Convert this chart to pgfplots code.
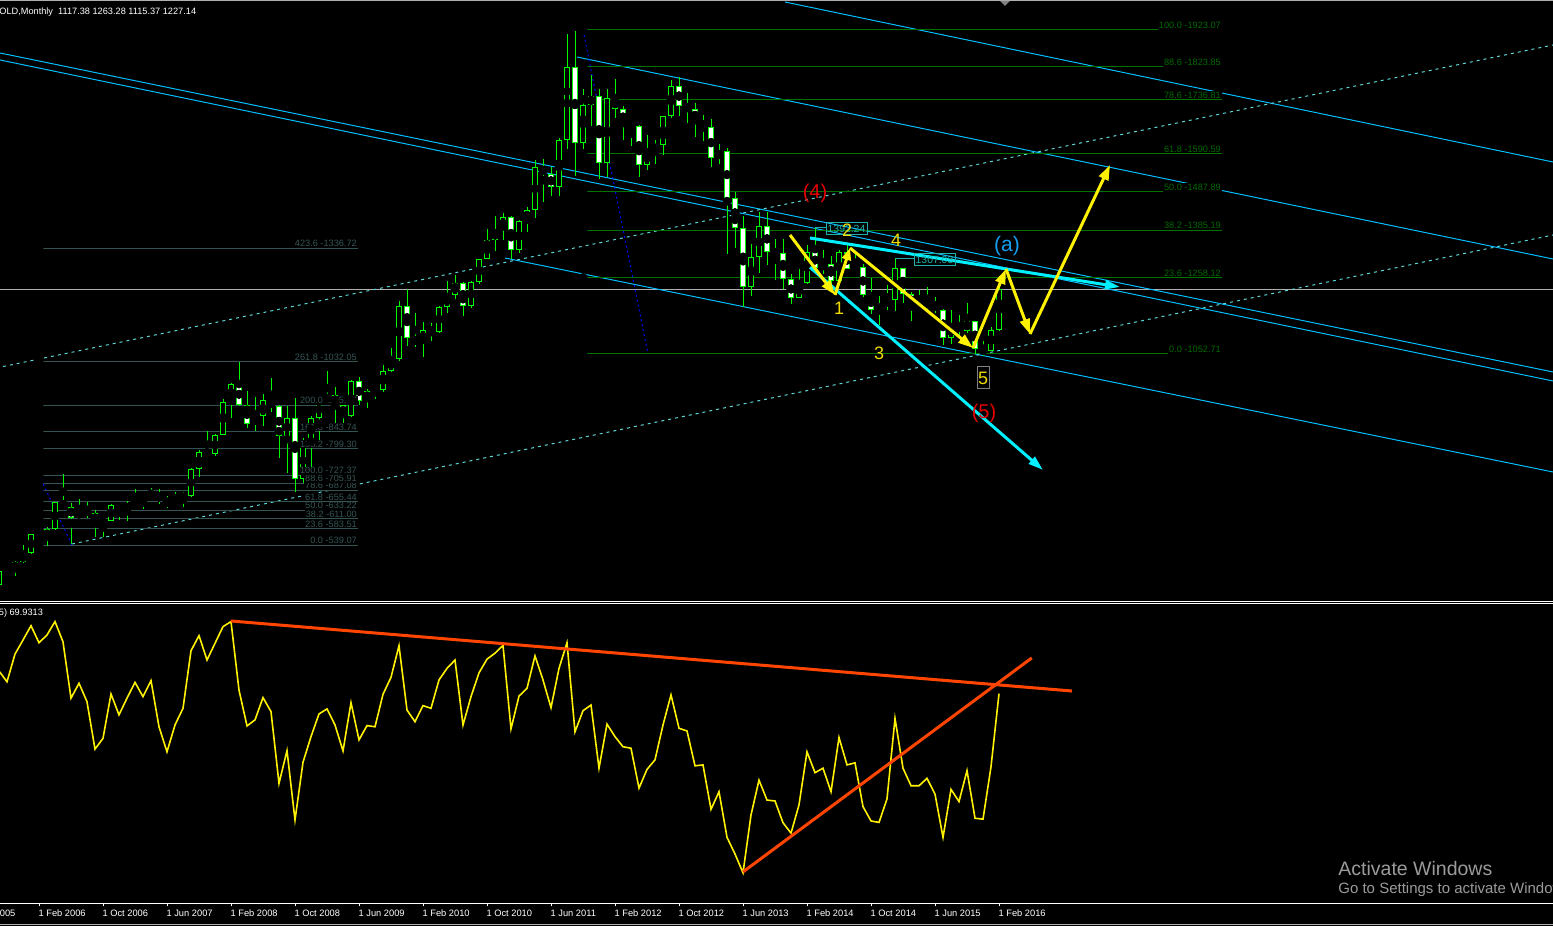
\documentclass[border=0pt]{standalone}
\usepackage{pgfplots}
\pgfplotsset{compat=1.18}
\usepackage{pgfplotstable}
\usepackage{fontspec}
\setmainfont{Liberation Sans}
\usetikzlibrary{arrows.meta}

\definecolor{candle}{RGB}{0,250,0}
\definecolor{chan}{RGB}{0,191,255}
\definecolor{dotc}{RGB}{95,215,215}
\definecolor{fibL}{RGB}{52,84,84}
\definecolor{fibR}{RGB}{0,115,0}
\definecolor{fibRt}{RGB}{0,105,0}
\definecolor{arrcy}{RGB}{0,240,255}
\definecolor{ored}{RGB}{255,69,0}
\definecolor{lsg}{RGB}{32,178,170}
\definecolor{wm}{RGB}{155,155,155}
\definecolor{wred}{RGB}{230,0,0}
\definecolor{acol}{RGB}{20,160,240}
\definecolor{ylab}{RGB}{240,220,0}
\definecolor{pline}{RGB}{175,175,175}

% monthly OHLC, m = months since Feb 2006
\pgfplotstableread{
m o h l c
-5 433 474 431 469
-4 469 478 457 470
-3 470 497 456 495
-2 495 539 490 517
-1 517 570 515 569
0 569 573 538 556
1 556 587 537 582
2 582 655 580 654
3 654 730 636 643
4 643 652 543 613
5 613 663 610 632
6 632 656 612 626
7 626 634 561 599
8 599 613 560 604
9 604 649 603 646
10 646 647 606 632
11 632 657 603 650
12 650 690 648 665
13 665 672 636 662
14 662 693 661 679
15 679 690 651 657
16 657 672 640 650
17 650 683 648 665
18 665 682 642 672
19 672 746 669 743
20 743 794 723 789
21 789 845 773 783
22 783 838 780 834
23 834 932 834 924
24 924 976 880 972
25 972 1032 912 917
26 917 952 854 864
27 864 936 846 885
28 885 944 860 928
29 928 988 898 912
30 912 917 774 832
31 832 914 734 880
32 880 934 681 718
33 718 828 705 815
34 815 887 750 882
35 882 931 800 926
36 926 1006 916 942
37 942 963 866 917
38 917 918 865 885
39 885 982 883 979
40 979 990 915 926
41 926 960 908 954
42 954 968 931 955
43 955 1024 950 1008
44 1008 1070 1003 1040
45 1040 1195 1034 1182
46 1182 1227 1075 1097
47 1097 1162 1072 1082
48 1082 1138 1045 1118
49 1118 1136 1087 1113
50 1113 1181 1110 1179
51 1179 1249 1163 1212
52 1212 1265 1200 1244
53 1244 1245 1155 1181
54 1181 1250 1177 1247
55 1247 1309 1242 1307
56 1307 1388 1307 1358
57 1358 1424 1330 1386
58 1386 1431 1360 1421
59 1421 1424 1309 1332
60 1332 1412 1324 1409
61 1409 1447 1381 1439
62 1439 1575 1417 1556
63 1556 1577 1462 1536
64 1536 1556 1478 1500
65 1500 1632 1478 1628
66 1628 1913 1603 1825
67 1825 1921 1532 1620
68 1620 1764 1603 1722
69 1722 1803 1666 1746
70 1746 1764 1523 1565
71 1565 1764 1527 1740
72 1740 1792 1688 1710
73 1710 1719 1627 1669
74 1669 1677 1612 1664
75 1664 1669 1527 1561
76 1561 1641 1548 1598
77 1598 1627 1564 1614
78 1614 1693 1588 1692
79 1692 1790 1687 1773
80 1773 1796 1693 1719
81 1719 1754 1672 1712
82 1712 1726 1635 1676
83 1676 1696 1626 1663
84 1663 1684 1555 1579
85 1579 1617 1562 1597
86 1597 1605 1321 1472
87 1472 1488 1338 1392
88 1392 1424 1180 1234
89 1234 1348 1208 1313
90 1313 1434 1271 1396
91 1396 1434 1292 1327
92 1327 1362 1251 1323
93 1323 1361 1227 1253
94 1253 1267 1187 1202
95 1202 1280 1202 1244
96 1244 1346 1241 1326
97 1326 1392 1277 1284
98 1284 1331 1268 1295
99 1295 1315 1240 1250
100 1250 1332 1240 1327
101 1327 1345 1280 1282
102 1282 1323 1273 1287
103 1287 1294 1206 1210
104 1210 1256 1161 1172
105 1172 1208 1131 1183
106 1183 1239 1170 1199
107 1199 1308 1168 1283
108 1283 1285 1191 1213
109 1213 1219 1142 1183
110 1183 1224 1175 1184
111 1184 1232 1170 1190
112 1190 1205 1162 1172
113 1172 1174 1077 1095
114 1095 1170 1080 1133
115 1133 1157 1098 1115
116 1115 1191 1108 1142
117 1142 1142 1052 1065
118 1065 1088 1046 1061
119 1061 1124 1061 1117
120 1117.38 1263.28 1115.37 1227.14
}\gold

% oscillator in the lower pane
\pgfplotstableread{
m v
-5 77.5
-4 73.9
-3 83.2
-2 87.9
-1 92.7
0 87.0
1 89.6
2 94.1
3 87.3
4 68.4
5 73.4
6 67.2
7 51.3
8 54.9
9 69.8
10 62.8
11 68.4
12 73.7
13 68.9
14 74.3
15 58.8
16 50.4
17 59.4
18 65.0
19 84.3
20 89.4
21 81.2
22 86.8
23 92.4
24 94.1
25 71.1
26 59.1
27 61.1
28 68.6
29 63.9
30 39.8
31 50.8
32 27.5
33 46.9
34 55.5
35 63.1
36 64.8
37 59.4
38 50.7
39 66.9
40 54.4
41 59.2
42 58.8
43 69.7
44 75.4
45 86.0
46 64.4
47 60.5
48 65.9
49 65.0
50 74.5
51 78.4
52 81.2
53 59.4
54 68.9
55 76.9
56 81.5
57 83.5
58 86.1
59 58.1
60 69.1
61 71.7
62 82.6
63 74.5
64 65.2
65 78.4
66 87.0
67 57.1
68 64.2
69 66.1
70 44.9
71 59.7
72 55.5
73 52.1
74 51.6
75 38.2
76 44.5
77 47.7
78 59.4
79 69.5
80 58.3
81 57.4
82 45.7
83 46.0
84 31.1
85 37.0
86 21.7
87 16.1
88 9.8
89 29.2
90 40.9
91 34.2
92 33.9
93 26.6
94 23.1
95 32.6
96 50.4
97 43.4
98 44.9
99 37.0
100 55.2
101 46.0
102 46.7
103 32.0
104 27.2
105 26.7
106 34.6
107 61.6
108 44.9
109 39.0
110 39.0
111 41.5
112 36.2
113 21.7
114 37.8
115 33.7
116 44.1
117 28.1
118 27.8
119 45.4
120 69.93
}\rsi

\pgfplotstableread[col sep=comma]{
p,lab
539.07,0.0 -539.07
583.51,23.6 -583.51
611.00,38.2 -611.00
633.22,50.0 -633.22
655.44,61.8 -655.44
687.08,78.6 -687.08
705.91,88.6 -705.91
727.37,100.0 -727.37
799.30,138.2 -799.30
843.74,161.8 -843.74
915.67,200.0 -915.67
1032.05,261.8 -1032.05
1336.72,423.6 -1336.72
}\fibLtab

\pgfplotstableread[col sep=comma]{
p,lab
1052.71,0.0 -1052.71
1258.12,23.6 -1258.12
1385.19,38.2 -1385.19
1487.89,50.0 -1487.89
1590.59,61.8 -1590.59
1736.81,78.6 -1736.81
1823.85,88.6 -1823.85
1923.07,100.0 -1923.07
}\fibRtab

\pgfplotsset{
  ebar/.style={only marks, mark=none, forget plot,
    error bars/.cd, y dir=both, y explicit, error mark=none,
    error bar style={line cap=butt, #1}},
  hbar/.style={only marks, mark=none, forget plot,
    error bars/.cd, x dir=plus, x explicit, error mark=none,
    error bar style={#1}},
  pricepane/.style={at={(0pt,162.5pt)}, anchor=south west,
    width=776.5pt, height=300.5pt, scale only axis,
    xmin=-4.875, xmax=189.25, ymin=389.2, ymax=2003.66,
    hide axis, clip=true},
}
\newcommand\smallfont{\fontsize{4.6pt}{5pt}\selectfont}

\begin{document}
\begin{tikzpicture}
\useasboundingbox (0,0) rectangle (776.5pt,463pt);
\clip (0,0) rectangle (776.5pt,463pt);
\fill[black] (0,0) rectangle (776.5pt,463pt);

% ---------------- price pane: lines, levels and candles ----------------
\begin{axis}[pricepane]
  % current price
  \addplot[pline, line width=0.5pt] coordinates {(-5,1227.14) (190,1227.14)};

  % channels
  \addplot[chan, line width=0.5pt] coordinates {(-4.875,1861.3) (189.25,1004.4)};
  \addplot[chan, line width=0.5pt] coordinates {(-4.875,1842.5) (189.25,980.2)};
  \addplot[chan, line width=0.5pt] coordinates {(67.25,1850.5) (189.25,1307.9)};
  \addplot[chan, line width=0.5pt] coordinates {(93.25,1998.3) (189.25,1568.5)};
  \addplot[chan, line width=0.5pt] coordinates {(58.25,1310.6) (189.25,735.7)};
  \addplot[dotc, line width=0.5pt, dash pattern=on 1.5pt off 2pt]
    coordinates {(-4.5,1019) (189.25,1882.8)};
  \addplot[dotc, line width=0.5pt, dash pattern=on 1.5pt off 2pt]
    coordinates {(4.125,542.3) (189.25,1372.4)};

  \addplot[blue, line width=0.5pt, dash pattern=on 1pt off 1.5pt]
    coordinates {(0,727.37) (4.125,539.07)};
  \addplot[blue, line width=0.5pt, dash pattern=on 1pt off 1.5pt]
    coordinates {(68,1923.07) (76.125,1052.71)};

  % fibonacci levels
  \addplot[only marks, mark=none, forget plot, point meta=explicit symbolic,
    nodes near coords, every node near coord/.append style={anchor=south east,
    inner sep=0.4pt, fill=black, font=\smallfont, text=fibL}]
    table[x expr=39.875, y=p, meta=lab] {\fibLtab};
  \addplot[only marks, mark=none, forget plot, point meta=explicit symbolic,
    nodes near coords, every node near coord/.append style={anchor=south east,
    inner sep=0.4pt, fill=black, font=\smallfont, text=fibRt}]
    table[x expr=147.875, y=p, meta=lab] {\fibRtab};
  \addplot[hbar={color=fibL, line width=0.5pt}]
    table[x expr=0, y=p, x error expr=39.875] {\fibLtab};
  \addplot[hbar={color=fibR, line width=0.5pt}]
    table[x expr=68, y=p, x error expr=79.875] {\fibRtab};

  % candles: wicks, bodies, inner fill
  \addplot[ebar={color=candle, line width=0.5pt}]
    table[x=m, y expr=(\thisrow{h}+\thisrow{l})/2,
      y error expr=(\thisrow{h}-\thisrow{l})/2] {\gold};
  \addplot[ebar={color=candle, line width=2.8pt}]
    table[x=m, y expr=(\thisrow{o}+\thisrow{c})/2,
      y error expr={max(abs(\thisrow{c}-\thisrow{o})/2,1.4)}] {\gold};
  \addplot[ebar={color=white, line width=1.8pt}]
    table[x=m, y expr=(\thisrow{o}+\thisrow{c})/2,
      y error expr={(\thisrow{c}<\thisrow{o})*max(abs(\thisrow{c}-\thisrow{o})/2-2.69,0)}] {\gold};
  \addplot[ebar={color=black, line width=1.8pt}]
    table[x=m, y expr=(\thisrow{o}+\thisrow{c})/2,
      y error expr={(\thisrow{c}>\thisrow{o})*max(abs(\thisrow{c}-\thisrow{o})/2-2.69,0)}] {\gold};
\end{axis}

% ---------------- price pane: wave arrows on top ----------------
\begin{axis}[pricepane]
  \addplot[arrcy, line width=1.5pt, -{Triangle[length=7.5pt,width=4.5pt]}]
    coordinates {(96.375,1285.6) (125.5,741.1)};
  \addplot[yellow, line width=1.5pt, -{Triangle[length=7.5pt,width=5pt]}]
    coordinates {(93.875,1372.4) (99.5,1211.2)};
  \addplot[yellow, line width=1.5pt, -{Triangle[length=6pt,width=4.5pt]}]
    coordinates {(99.5,1211.2) (101.375,1337.4)};
  \addplot[yellow, line width=1.5pt, -{Triangle[length=7.5pt,width=5pt]}]
    coordinates {(101.375,1337.4) (116.75,1068.8)};
  \addplot[arrcy, line width=1.5pt, -{Triangle[length=7.5pt,width=4.5pt]}]
    coordinates {(96.375,1364.3) (135.125,1232.7)};
  \addplot[yellow, line width=1.5pt, -{Triangle[length=7.5pt,width=5pt]}]
    coordinates {(116.75,1068.8) (120.875,1281.0)};
  \addplot[yellow, line width=1.5pt, -{Triangle[length=7.5pt,width=5pt]}]
    coordinates {(120.875,1281.0) (123.875,1106.4)};
  \addplot[yellow, line width=1.5pt, -{Triangle[length=7.5pt,width=5pt]}]
    coordinates {(123.875,1106.4) (133.875,1560.4)};
\end{axis}

% ---------------- oscillator pane ----------------
\begin{axis}[at={(0pt,11.25pt)}, anchor=south west,
  width=776.5pt, height=149.75pt, scale only axis,
  xmin=-4.875, xmax=189.25, ymin=-0.503, ymax=100,
  axis x line=bottom, axis y line=none, ytick=\empty,
  x axis line style={-, white, line width=0.5pt},
  xtick={0,8,...,120},
  xticklabels={1 Feb 2006,1 Oct 2006,1 Jun 2007,1 Feb 2008,1 Oct 2008,
    1 Jun 2009,1 Feb 2010,1 Oct 2010,1 Jun 2011,1 Feb 2012,1 Oct 2012,1 Jun 2013,
    1 Feb 2014,1 Oct 2014,1 Jun 2015,1 Feb 2016},
  tick align=outside, major tick length=1.5pt,
  xtick style={white, line width=0.5pt},
  xticklabel style={anchor=north west, inner sep=0pt, xshift=-0.4pt, yshift=-1.6pt,
    font=\fontsize{4.65pt}{5pt}\selectfont, text=white},
  clip=true]
  \addplot[yellow, line width=0.8pt] table[x=m, y=v] {\rsi};
  \addplot[ored, line width=1.5pt] coordinates {(24,94.3) (129.125,70.8)};
  \addplot[ored, line width=1.5pt] coordinates {(88,10.1) (124.1,81.9)};
\end{axis}

% ---------------- frame and labels (pixel coordinates) ----------------
\begin{scope}[x=0.5pt, y=-0.5pt, yshift=463pt]
  \draw[pline, line width=0.5pt] (0,1) -- (1553,1);
  \draw[white, line width=0.5pt] (0,601.5) -- (1553,601.5);
  \draw[white, line width=0.5pt] (0,604) -- (1553,604);
  \draw[pline, line width=0.5pt] (0,925) -- (1553,925);
  \fill[gray] (1000,1) -- (1010,1) -- (1005,6) -- cycle;

  \node[anchor=north west, inner sep=0pt, text=white, font=\fontsize{4.65pt}{5pt}\selectfont]
    at (-31,909.7) {1 Jun 2005};

  \node[anchor=base west, inner sep=0pt, text=white, font=\smallfont]
    at (-1,15) {OLD,Monthly\ \ 1117.38 1263.28 1115.37 1227.14};
  \node[anchor=base west, inner sep=0pt, text=white, font=\smallfont]
    at (-1.5,616) {5) 69.9313};

  \draw[lsg, line width=0.5pt] (815,228) -- (826,228);
  \draw[lsg, line width=0.5pt] (826,223) rectangle (867,235);
  \node[inner sep=0pt, text=lsg, font=\fontsize{5.2pt}{5.2pt}\selectfont] at (846.5,229) {1392.24};
  \draw[lsg, line width=0.5pt] (895,259) -- (914,259);
  \draw[lsg, line width=0.5pt] (914,254) rectangle (955,266);
  \node[inner sep=0pt, text=lsg, font=\fontsize{5.2pt}{5.2pt}\selectfont] at (934.5,260) {1307.03};

  \node[text=wred, inner sep=0pt, font=\fontsize{10pt}{10pt}\selectfont] at (815,193) {(4)};
  \node[text=wred, inner sep=0pt, font=\fontsize{10pt}{10pt}\selectfont] at (984,413) {(5)};
  \node[text=acol, inner sep=0pt, font=\fontsize{10.5pt}{10.5pt}\selectfont] at (1007,246) {(a)};

  \node[text=ylab, inner sep=0pt, font=\fontsize{9pt}{9pt}\selectfont] at (839,308) {1};
  \node[text=ylab, inner sep=0pt, font=\fontsize{9pt}{9pt}\selectfont] at (847,230) {2};
  \node[text=ylab, inner sep=0pt, font=\fontsize{9pt}{9pt}\selectfont] at (879,353) {3};
  \node[text=ylab, inner sep=0pt, font=\fontsize{9pt}{9pt}\selectfont] at (896,240) {4};
  \draw[gray, line width=0.5pt] (977,367) rectangle (989,389);
  \node[text=ylab, inner sep=0pt, font=\fontsize{9pt}{9pt}\selectfont] at (983,378) {5};

  \node[anchor=base west, inner sep=0pt, text=wm, font=\fontsize{9.75pt}{10pt}\selectfont]
    at (1338,876) {Activate Windows};
  \node[anchor=base west, inner sep=0pt, text=wm, font=\fontsize{7.5pt}{8pt}\selectfont]
    at (1338,894) {Go to Settings to activate Windows.};
\end{scope}
\end{tikzpicture}
\end{document}
